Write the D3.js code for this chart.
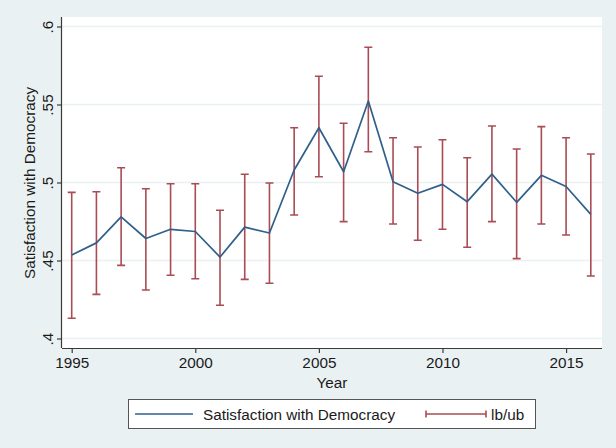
<!DOCTYPE html>
<html>
<head>
<meta charset="utf-8">
<script src="https://cdn.jsdelivr.net/npm/d3@7/dist/d3.min.js"></script>
<style>
  html, body { margin: 0; padding: 0; background: #eaf1f3; }
  svg { display: block; }
  text { font-family: "Liberation Sans", Arial, sans-serif; fill: #1a1a1a; }
</style>
</head>
<body>
<script>
// Survey years
const years = [1995, 1996, 1997, 1998, 1999, 2000, 2001, 2002, 2003, 2004, 2005,
               2006, 2007, 2008, 2009, 2010, 2011, 2012, 2013, 2014, 2015, 2016];
// Mean satisfaction with democracy
const meanSat = [0.4535, 0.4613, 0.4780, 0.4641, 0.4700, 0.4686, 0.4522, 0.4714, 0.4676, 0.5080, 0.5351,
                 0.5069, 0.5522, 0.5005, 0.4931, 0.4988, 0.4877, 0.5054, 0.4873, 0.5046, 0.4974, 0.4796];
// Lower and upper bounds of the confidence interval
const lowerBound = [0.4130, 0.4283, 0.4469, 0.4311, 0.4405, 0.4383, 0.4213, 0.4379, 0.4354, 0.4792, 0.5037,
                    0.4749, 0.5197, 0.4734, 0.4630, 0.4700, 0.4585, 0.4749, 0.4512, 0.4734, 0.4663, 0.4401];
const upperBound = [0.4937, 0.4941, 0.5095, 0.4960, 0.4992, 0.4992, 0.4822, 0.5053, 0.4997, 0.5351, 0.5681,
                    0.5380, 0.5867, 0.5287, 0.5228, 0.5274, 0.5159, 0.5362, 0.5215, 0.5358, 0.5287, 0.5183];
const xTicks = [1995, 2000, 2005, 2010, 2015];
const yTicks = [0.4, 0.45, 0.5, 0.55, 0.6];
const yTickLabels = [".4", ".45", ".5", ".55", ".6"];
const yTitle = "Satisfaction with Democracy";
const xTitle = "Year";
const legendLabels = ["Satisfaction with Democracy", "lb/ub"];

const W = 616, H = 448;
const plot = { left: 62, right: 602, top: 17, bottom: 348 };
const lineColor = "#30608a";
const barColor = "#a94c54";
const axisColor = "#3a3a3a";
const fontSize = "15.3px";

const svg = d3.select("body").append("svg").attr("width", W).attr("height", H);
svg.append("rect").attr("width", W).attr("height", H).attr("fill", "#eaf1f3");

const x = d3.scaleLinear().domain([1995, 2016]).range([71.7, 590.8]);
const y = d3.scaleLinear().domain([0.4, 0.6]).range([338.5, 26.5]);

// plot region
svg.append("rect")
  .attr("x", plot.left).attr("y", plot.top)
  .attr("width", plot.right - plot.left).attr("height", plot.bottom - plot.top)
  .attr("fill", "#ffffff");

// horizontal grid
svg.append("g").selectAll("line").data(yTicks).join("line")
  .attr("x1", plot.left).attr("x2", plot.right)
  .attr("y1", d => y(d)).attr("y2", d => y(d))
  .attr("stroke", "#eaf1f3").attr("stroke-width", 1.5);

// error bars
const data = years.map((yr, i) => ({ yr, m: meanSat[i], lb: lowerBound[i], ub: upperBound[i] }));
const bars = svg.append("g").attr("stroke", barColor).attr("stroke-width", 1.6).attr("fill", "none");
bars.selectAll("path").data(data).join("path")
  .attr("d", d => {
    const cx = x(d.yr), cap = 4;
    return `M${cx},${y(d.lb)}V${y(d.ub)}` +
           `M${cx - cap},${y(d.lb)}H${cx + cap}` +
           `M${cx - cap},${y(d.ub)}H${cx + cap}`;
  });

// mean line
svg.append("path").datum(data)
  .attr("fill", "none").attr("stroke", lineColor).attr("stroke-width", 1.7)
  .attr("stroke-linejoin", "round")
  .attr("d", d3.line().x(d => x(d.yr)).y(d => y(d.m)));

// y axis
const yAxis = d3.axisLeft(y).tickValues(yTicks).tickSize(5).tickPadding(4)
  .tickFormat((d, i) => yTickLabels[i]);
const gy = svg.append("g").attr("transform", `translate(${plot.left},0)`).call(yAxis);
gy.select(".domain").attr("d", `M-0.5,${plot.top}V${plot.bottom}`).attr("stroke", axisColor).attr("stroke-width", 1.2);
gy.selectAll(".tick line").attr("stroke", axisColor).attr("stroke-width", 1.2);
gy.selectAll(".tick text")
  .attr("x", 0).attr("dy", 0)
  .attr("transform", "translate(-9,0) rotate(-90)")
  .attr("text-anchor", "middle")
  .style("font-family", '"Liberation Sans", Arial, sans-serif')
  .style("font-size", fontSize).attr("fill", "#1a1a1a");

// x axis
const xAxis = d3.axisBottom(x).tickValues(xTicks).tickSize(5).tickPadding(4).tickFormat(d3.format("d"));
const gx = svg.append("g").attr("transform", `translate(0,${plot.bottom})`).call(xAxis);
gx.select(".domain").attr("d", `M${plot.left},0.5H${plot.right}`).attr("stroke", axisColor).attr("stroke-width", 1.2);
gx.selectAll(".tick line").attr("stroke", axisColor).attr("stroke-width", 1.2);
gx.selectAll(".tick text")
  .style("font-family", '"Liberation Sans", Arial, sans-serif')
  .style("font-size", fontSize).attr("fill", "#1a1a1a");

// axis titles
svg.append("text").attr("x", 332).attr("y", 388).attr("text-anchor", "middle")
  .style("font-size", fontSize).text(xTitle);
svg.append("text").attr("transform", "translate(35,183) rotate(-90)").attr("text-anchor", "middle")
  .style("font-size", fontSize).text(yTitle);

// legend
const lg = svg.append("g");
lg.append("rect").attr("x", 128.5).attr("y", 399.5).attr("width", 407).attr("height", 29)
  .attr("fill", "#fff").attr("stroke", "#555").attr("stroke-width", 1);
lg.append("line").attr("x1", 135).attr("x2", 193).attr("y1", 414).attr("y2", 414)
  .attr("stroke", lineColor).attr("stroke-width", 1.7);
lg.append("text").attr("x", 203).attr("y", 419.5).style("font-size", fontSize).text(legendLabels[0]);
lg.append("path").attr("d", "M426,414H486M426,410.5V417.5M486,410.5V417.5")
  .attr("stroke", barColor).attr("stroke-width", 1.6).attr("fill", "none");
lg.append("text").attr("x", 491).attr("y", 419.5).style("font-size", fontSize).text(legendLabels[1]);
</script>
</body>
</html>
